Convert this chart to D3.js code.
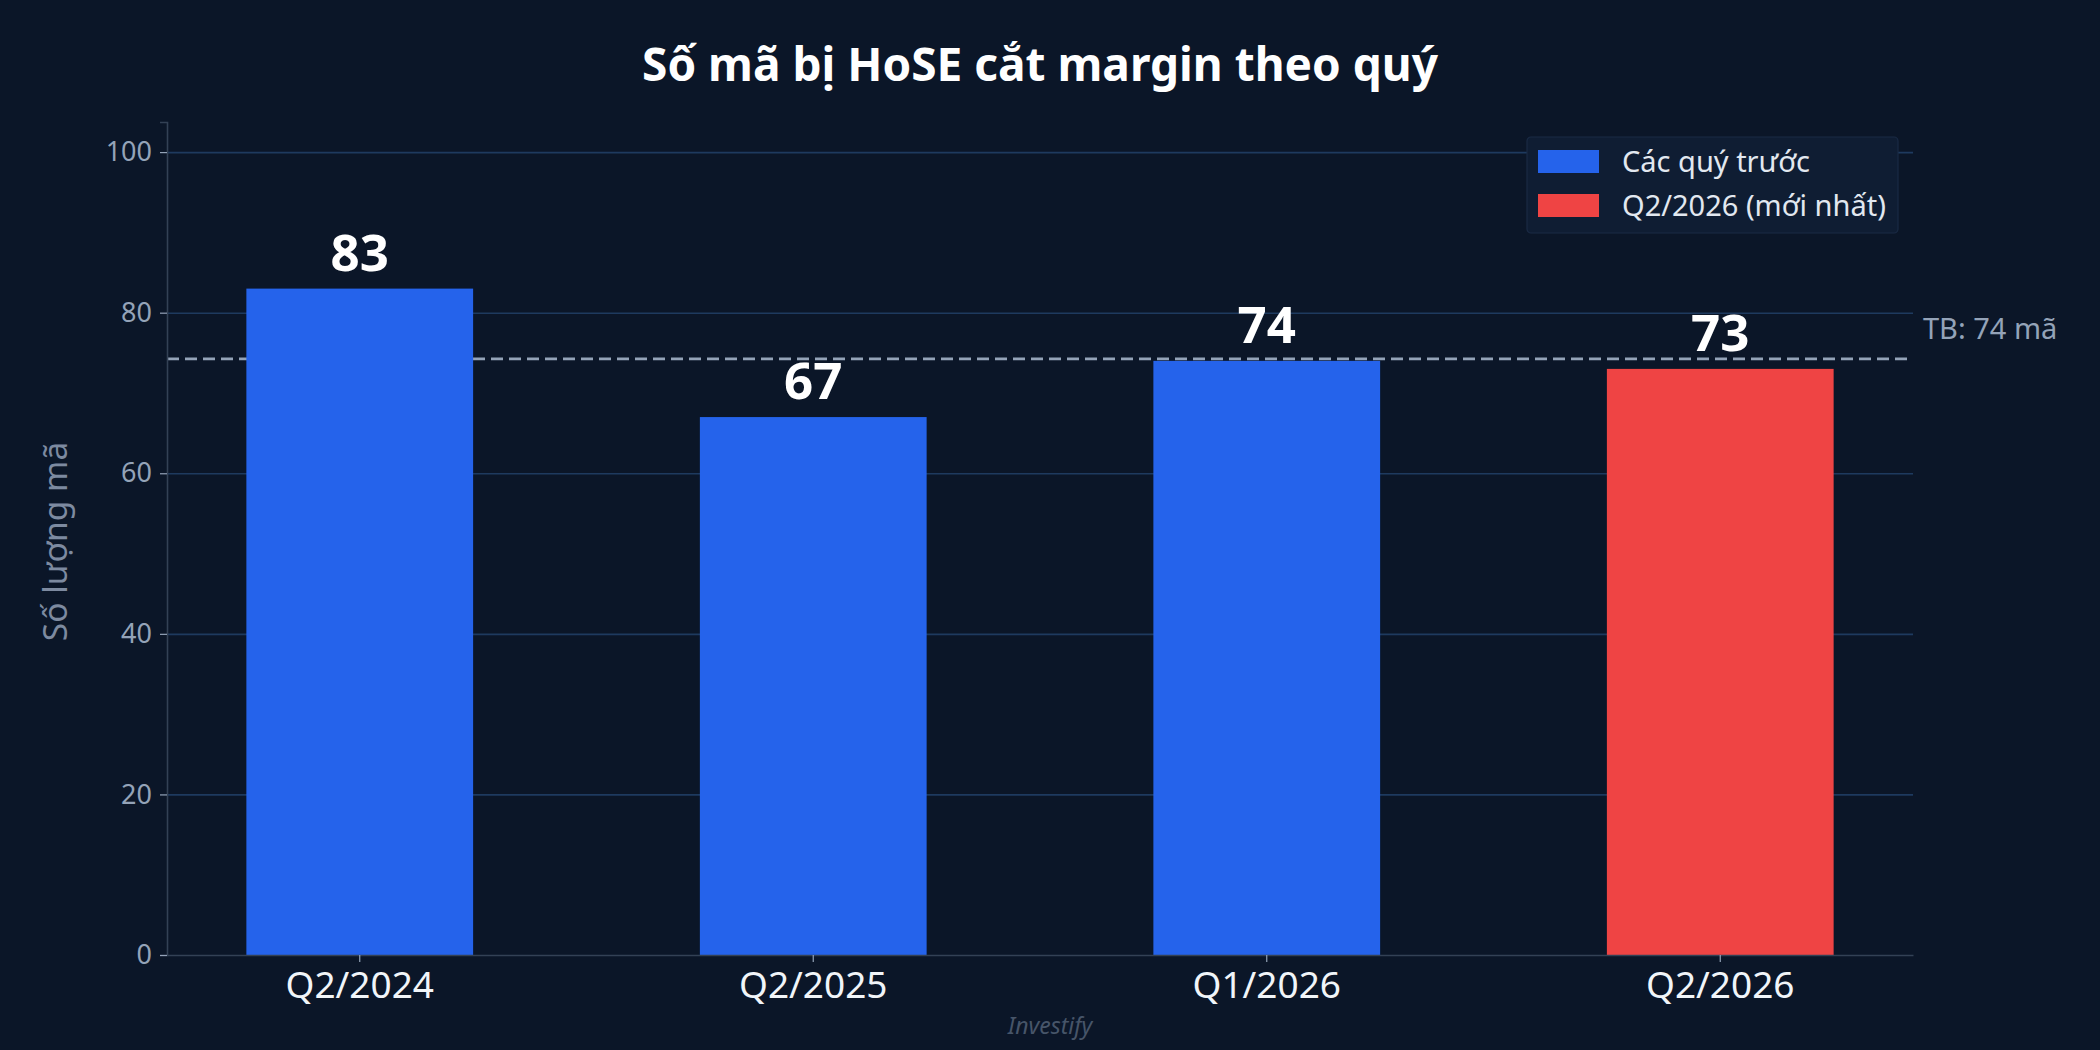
<!DOCTYPE html>
<html>
<head>
<meta charset="utf-8">
<script src="https://cdn.jsdelivr.net/npm/d3@7"></script>
<style>
  html, body { margin: 0; padding: 0; background: #0b1628; }
  svg { display: block; font-family: "Noto Sans", "Open Sans", sans-serif; }
</style>
</head>
<body>
<div id="chart-area"></div>
<script>
// data
var quarters = ["Q2/2024", "Q2/2025", "Q1/2026", "Q2/2026"];
var counts = [83, 67, 74, 73];
var latestQuarter = "Q2/2026";
var yTicks = [0, 20, 40, 60, 80, 100];
var legendLabels = ["Các quý trước", "Q2/2026 (mới nhất)"];

var W = 2100, H = 1050;
var margin = {left: 167, right: 187, top: 122, bottom: 95};
var width = W - margin.left - margin.right;
var height = H - margin.top - margin.bottom;

var blue = "#2563eb", red = "#ef4444";

var svg = d3.select("#chart-area").append("svg")
    .attr("width", W)
    .attr("height", H);

svg.append("rect").attr("width", W).attr("height", H).attr("fill", "#0b1628");

var g = svg.append("g")
    .attr("transform", "translate(" + margin.left + "," + margin.top + ")");

var x = d3.scaleBand()
    .domain(quarters)
    .range([0, width])
    .paddingInner(0.5)
    .paddingOuter(0.175);

var y = d3.scaleLinear()
    .domain([0, d3.max(counts) * 1.25])
    .range([height, 0]);

// gridlines
var grid = g.append("g")
    .call(d3.axisLeft(y).tickValues(yTicks.slice(1)).tickSize(-width).tickFormat(""));
grid.select(".domain").remove();
grid.selectAll("line").attr("stroke", "#1e3a5f").attr("stroke-width", 1.6);

// average line (behind the bars)
var avg = d3.mean(counts);
g.append("line")
    .attr("x1", 0).attr("x2", width)
    .attr("y1", y(avg)).attr("y2", y(avg))
    .attr("stroke", "#94a3b8")
    .attr("stroke-width", 2.8)
    .attr("stroke-dasharray", "12,6");

g.append("text")
    .attr("x", width + 10)
    .attr("y", y(avg) - 20)
    .attr("fill", "#94a3b8")
    .attr("font-size", 29)
    .text("TB: " + Math.round(avg) + " mã");

// bars
g.selectAll(".bar")
    .data(quarters)
    .enter().append("rect")
    .attr("class", "bar")
    .attr("x", function(d) { return x(d); })
    .attr("width", x.bandwidth())
    .attr("y", function(d, i) { return y(counts[i]); })
    .attr("height", function(d, i) { return height - y(counts[i]); })
    .attr("fill", function(d) { return d === latestQuarter ? red : blue; });

// value labels
g.selectAll(".val")
    .data(quarters)
    .enter().append("text")
    .attr("class", "val")
    .attr("x", function(d) { return x(d) + x.bandwidth() / 2; })
    .attr("y", function(d, i) { return y(counts[i]) - 18; })
    .attr("text-anchor", "middle")
    .attr("fill", "#ffffff")
    .attr("font-size", 51)
    .attr("font-weight", "bold")
    .text(function(d, i) { return counts[i]; });

// axes
var yAxis = g.append("g")
    .call(d3.axisLeft(y).tickValues(yTicks).tickSize(7).tickPadding(8));
yAxis.select(".domain").attr("stroke", "#334155").attr("stroke-width", 1.6);
yAxis.selectAll("line").attr("stroke", "#94a3b8").attr("stroke-width", 1.2);
yAxis.selectAll("text").attr("fill", "#94a3b8").attr("font-size", 27)
    .attr("font-family", "Noto Sans");

var xAxis = g.append("g")
    .attr("transform", "translate(0," + height + ")")
    .call(d3.axisBottom(x).tickSize(7).tickPadding(10).tickSizeOuter(0));
xAxis.select(".domain").attr("stroke", "#334155").attr("stroke-width", 1.6);
xAxis.selectAll("line").attr("stroke", "#94a3b8").attr("stroke-width", 1.2);
xAxis.selectAll("text").attr("fill", "#f1f5f9").attr("font-size", 37)
    .attr("font-family", "Noto Sans");

// y label
svg.append("text")
    .attr("transform", "translate(67," + (margin.top + y(51.5)) + ") rotate(-90)")
    .attr("text-anchor", "middle")
    .attr("fill", "#7d8aa0")
    .attr("font-size", 33.5)
    .text("Số lượng mã");

// title
svg.append("text")
    .attr("x", margin.left + width / 2)
    .attr("y", 81)
    .attr("text-anchor", "middle")
    .attr("fill", "#ffffff")
    .attr("font-size", 46)
    .attr("font-weight", "bold")
    .text("Số mã bị HoSE cắt margin theo quý");

// legend
var legend = svg.append("g").attr("transform", "translate(1527,137)");
legend.append("rect")
    .attr("width", 371).attr("height", 96).attr("rx", 4)
    .attr("fill", "#0f1d33").attr("stroke", "#1a2a44").attr("stroke-width", 1.2);
var items = legend.selectAll(".item")
    .data(legendLabels)
    .enter().append("g")
    .attr("transform", function(d, i) { return "translate(11," + (13 + i * 44) + ")"; });
items.append("rect")
    .attr("width", 61).attr("height", 23)
    .attr("fill", function(d, i) { return i === 0 ? blue : red; });
items.append("text")
    .attr("x", 84).attr("y", 12)
    .attr("dy", "0.35em")
    .attr("fill", "#e2e8f0")
    .attr("font-size", 29)
    .text(function(d) { return d; });

// watermark
svg.append("text")
    .attr("x", W / 2).attr("y", 1034)
    .attr("text-anchor", "middle")
    .attr("fill", "#475569")
    .attr("font-size", 23)
    .attr("font-style", "italic")
    .text("Investify");
</script>
</body>
</html>
